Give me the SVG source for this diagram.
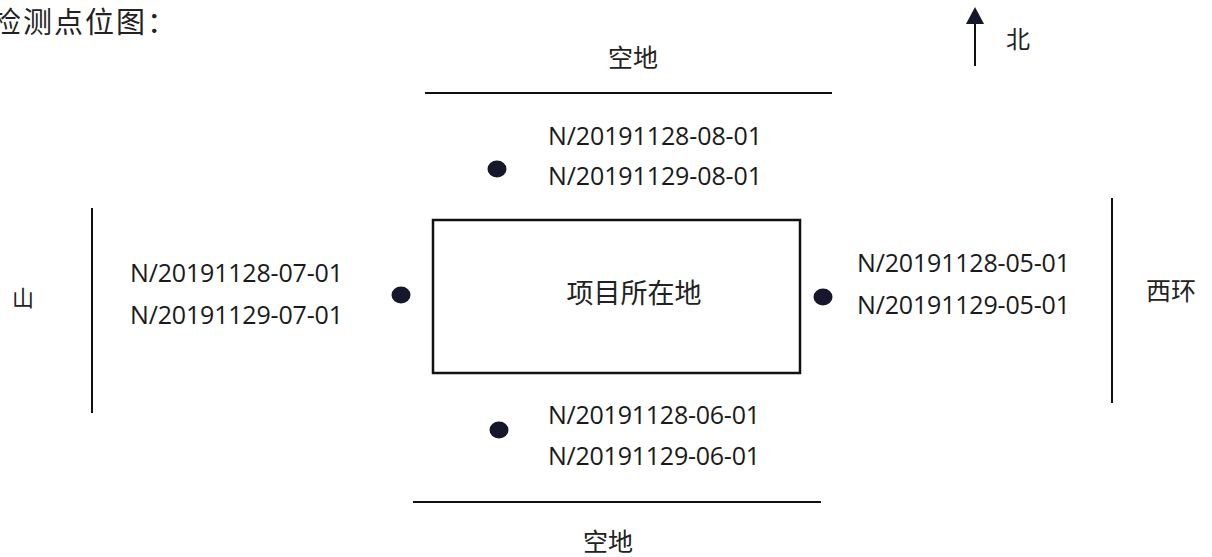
<svg xmlns="http://www.w3.org/2000/svg" width="1212" height="557" viewBox="0 0 1212 557">
<style>
.cn{font-family:"Noto Sans CJK SC","Noto Sans",sans-serif;fill:#222;}
.code{font-family:"Open Sans","Liberation Sans",sans-serif;font-size:25px;fill:#1a1a1a;}
.ln{stroke:#111;stroke-width:2;fill:none;}
.dot{fill:#15172a;}
</style>
<rect width="1212" height="557" fill="#fff"/>
<text class="cn" x="-8" y="33" font-size="29" letter-spacing="2">检测点位图：</text>
<g id="north">
<line class="ln" x1="975" y1="66" x2="975" y2="20"/>
<polygon points="975,7 966,24 984,24" fill="#15172a"/>
<text class="cn" x="1006" y="48" font-size="24">北</text>
</g>
<g id="connectors">
<line class="ln" x1="425" y1="93" x2="832" y2="93"/>
<line class="ln" x1="413" y1="502" x2="821" y2="502"/>
<line class="ln" x1="92" y1="208" x2="92" y2="413"/>
<line class="ln" x1="1112" y1="198" x2="1112" y2="403"/>
</g>
<g id="label-north-land"><text class="cn" x="633" y="67" font-size="25" text-anchor="middle">空地</text></g>
<g id="label-south-land"><text class="cn" x="608" y="551" font-size="25" text-anchor="middle">空地</text></g>
<g id="label-mountain"><text class="cn" x="23" y="306" font-size="22" text-anchor="middle">山</text></g>
<g id="label-xihuan"><text class="cn" x="1171" y="300" font-size="25" text-anchor="middle">西环</text></g>
<g id="project">
<rect x="433" y="220" width="367" height="153" fill="none" stroke="#111" stroke-width="2.5"/>
<text class="cn" x="634" y="303" font-size="27" text-anchor="middle">项目所在地</text>
</g>
<g id="point-08">
<ellipse class="dot" cx="497" cy="169" rx="9.5" ry="8.5"/>
<text class="code" x="548" y="145" textLength="214">N/20191128-08-01</text>
<text class="code" x="548" y="185" textLength="214">N/20191129-08-01</text>
</g>
<g id="point-07">
<ellipse class="dot" cx="401" cy="295" rx="9.5" ry="8.5"/>
<text class="code" x="130" y="282" textLength="213">N/20191128-07-01</text>
<text class="code" x="130" y="324" textLength="213">N/20191129-07-01</text>
</g>
<g id="point-05">
<ellipse class="dot" cx="823" cy="297" rx="9.5" ry="8.5"/>
<text class="code" x="857" y="272" textLength="213">N/20191128-05-01</text>
<text class="code" x="857" y="314" textLength="213">N/20191129-05-01</text>
</g>
<g id="point-06">
<ellipse class="dot" cx="499" cy="430" rx="9.5" ry="8.5"/>
<text class="code" x="548" y="424" textLength="212">N/20191128-06-01</text>
<text class="code" x="548" y="465" textLength="212">N/20191129-06-01</text>
</g>
</svg>
